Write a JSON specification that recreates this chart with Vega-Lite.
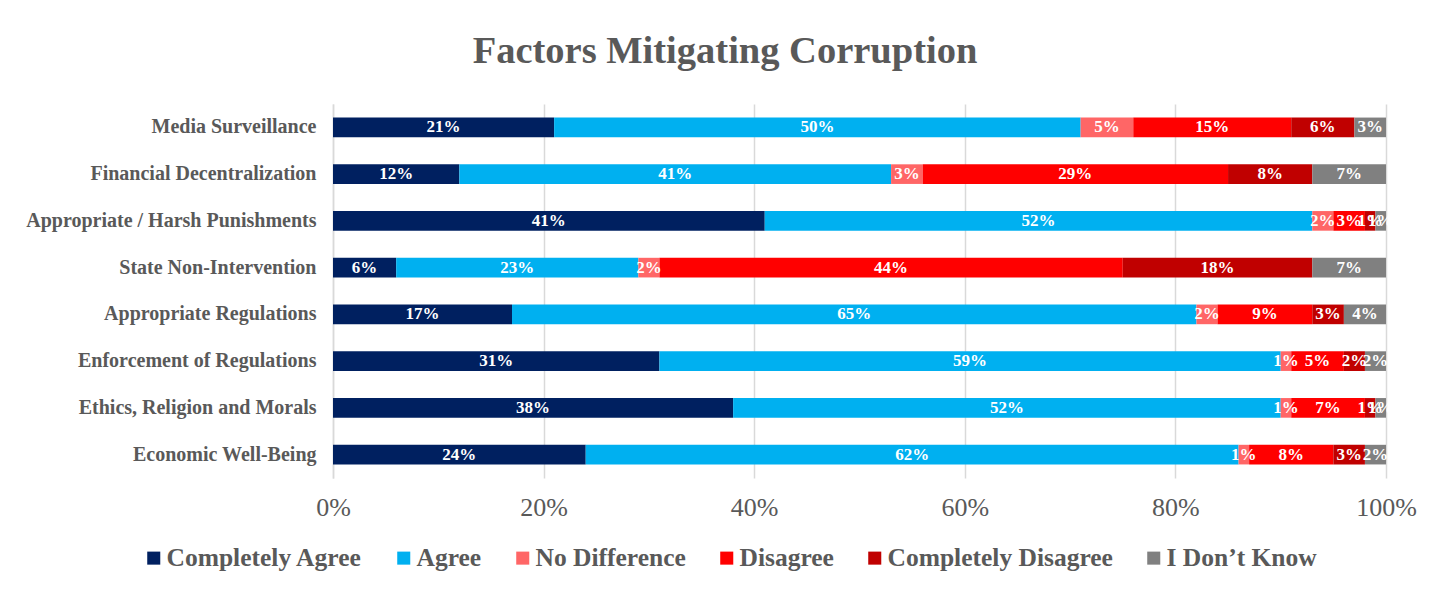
{
  "$schema": "https://vega.github.io/schema/vega-lite/v6.json",
  "autosize": {"type": "none"},
  "width": 1053,
  "height": 374,
  "padding": {"left": 333, "top": 104, "right": 63, "bottom": 117},
  "background": "white",
  "title": {
    "text": "Factors Mitigating Corruption",
    "font": "Liberation Serif",
    "fontSize": 38.5,
    "fontWeight": "bold",
    "color": "#595959",
    "anchor": "middle",
    "dx": -134.5,
    "offset": 33
  },
  "config": {
    "view": {"stroke": null},
    "font": "Liberation Serif"
  },
  "data": {
    "values": [
      {"f": "Media Surveillance", "c": "Completely Agree", "k": 1, "v": 0.21},
      {"f": "Media Surveillance", "c": "Agree", "k": 2, "v": 0.50},
      {"f": "Media Surveillance", "c": "No Difference", "k": 3, "v": 0.05},
      {"f": "Media Surveillance", "c": "Disagree", "k": 4, "v": 0.15},
      {"f": "Media Surveillance", "c": "Completely Disagree", "k": 5, "v": 0.06},
      {"f": "Media Surveillance", "c": "I Don’t Know", "k": 6, "v": 0.03},
      {"f": "Financial Decentralization", "c": "Completely Agree", "k": 1, "v": 0.12},
      {"f": "Financial Decentralization", "c": "Agree", "k": 2, "v": 0.41},
      {"f": "Financial Decentralization", "c": "No Difference", "k": 3, "v": 0.03},
      {"f": "Financial Decentralization", "c": "Disagree", "k": 4, "v": 0.29},
      {"f": "Financial Decentralization", "c": "Completely Disagree", "k": 5, "v": 0.08},
      {"f": "Financial Decentralization", "c": "I Don’t Know", "k": 6, "v": 0.07},
      {"f": "Appropriate / Harsh Punishments", "c": "Completely Agree", "k": 1, "v": 0.41},
      {"f": "Appropriate / Harsh Punishments", "c": "Agree", "k": 2, "v": 0.52},
      {"f": "Appropriate / Harsh Punishments", "c": "No Difference", "k": 3, "v": 0.02},
      {"f": "Appropriate / Harsh Punishments", "c": "Disagree", "k": 4, "v": 0.03},
      {"f": "Appropriate / Harsh Punishments", "c": "Completely Disagree", "k": 5, "v": 0.01},
      {"f": "Appropriate / Harsh Punishments", "c": "I Don’t Know", "k": 6, "v": 0.01},
      {"f": "State Non-Intervention", "c": "Completely Agree", "k": 1, "v": 0.06},
      {"f": "State Non-Intervention", "c": "Agree", "k": 2, "v": 0.23},
      {"f": "State Non-Intervention", "c": "No Difference", "k": 3, "v": 0.02},
      {"f": "State Non-Intervention", "c": "Disagree", "k": 4, "v": 0.44},
      {"f": "State Non-Intervention", "c": "Completely Disagree", "k": 5, "v": 0.18},
      {"f": "State Non-Intervention", "c": "I Don’t Know", "k": 6, "v": 0.07},
      {"f": "Appropriate Regulations", "c": "Completely Agree", "k": 1, "v": 0.17},
      {"f": "Appropriate Regulations", "c": "Agree", "k": 2, "v": 0.65},
      {"f": "Appropriate Regulations", "c": "No Difference", "k": 3, "v": 0.02},
      {"f": "Appropriate Regulations", "c": "Disagree", "k": 4, "v": 0.09},
      {"f": "Appropriate Regulations", "c": "Completely Disagree", "k": 5, "v": 0.03},
      {"f": "Appropriate Regulations", "c": "I Don’t Know", "k": 6, "v": 0.04},
      {"f": "Enforcement of Regulations", "c": "Completely Agree", "k": 1, "v": 0.31},
      {"f": "Enforcement of Regulations", "c": "Agree", "k": 2, "v": 0.59},
      {"f": "Enforcement of Regulations", "c": "No Difference", "k": 3, "v": 0.01},
      {"f": "Enforcement of Regulations", "c": "Disagree", "k": 4, "v": 0.05},
      {"f": "Enforcement of Regulations", "c": "Completely Disagree", "k": 5, "v": 0.02},
      {"f": "Enforcement of Regulations", "c": "I Don’t Know", "k": 6, "v": 0.02},
      {"f": "Ethics, Religion and Morals", "c": "Completely Agree", "k": 1, "v": 0.38},
      {"f": "Ethics, Religion and Morals", "c": "Agree", "k": 2, "v": 0.52},
      {"f": "Ethics, Religion and Morals", "c": "No Difference", "k": 3, "v": 0.01},
      {"f": "Ethics, Religion and Morals", "c": "Disagree", "k": 4, "v": 0.07},
      {"f": "Ethics, Religion and Morals", "c": "Completely Disagree", "k": 5, "v": 0.01},
      {"f": "Ethics, Religion and Morals", "c": "I Don’t Know", "k": 6, "v": 0.01},
      {"f": "Economic Well-Being", "c": "Completely Agree", "k": 1, "v": 0.24},
      {"f": "Economic Well-Being", "c": "Agree", "k": 2, "v": 0.62},
      {"f": "Economic Well-Being", "c": "No Difference", "k": 3, "v": 0.01},
      {"f": "Economic Well-Being", "c": "Disagree", "k": 4, "v": 0.08},
      {"f": "Economic Well-Being", "c": "Completely Disagree", "k": 5, "v": 0.03},
      {"f": "Economic Well-Being", "c": "I Don’t Know", "k": 6, "v": 0.02}
    ]
  },
  "encoding": {
    "y": {
      "field": "f",
      "type": "nominal",
      "sort": null,
      "title": null,
      "scale": {"paddingInner": 0.58, "paddingOuter": 0.29},
      "axis": {
        "labelFont": "Liberation Serif",
        "labelFontSize": 20,
        "labelFontWeight": "bold",
        "labelColor": "#595959",
        "labelPadding": 17,
        "ticks": false,
        "domainColor": "#D9D9D9",
        "domainWidth": 1.5,
        "labelLimit": 400
      }
    },
    "x": {
      "field": "v",
      "type": "quantitative",
      "stack": "zero",
      "title": null,
      "scale": {"domain": [0, 1], "nice": false},
      "axis": {
        "format": ".0%",
        "values": [0, 0.2, 0.4, 0.6, 0.8, 1],
        "labelFont": "Liberation Serif",
        "labelFontSize": 26,
        "labelColor": "#595959",
        "labelPadding": 16,
        "ticks": false,
        "domain": false,
        "grid": true,
        "gridColor": "#D9D9D9",
        "gridWidth": 1.5,
        "labelFlush": false
      }
    },
    "order": {"field": "k", "type": "quantitative"}
  },
  "layer": [
    {
      "mark": {"type": "bar"},
      "encoding": {
        "color": {
          "field": "c",
          "type": "nominal",
          "title": null,
          "scale": {
            "domain": ["Completely Agree", "Agree", "No Difference", "Disagree", "Completely Disagree", "I Don’t Know"],
            "range": ["#002060", "#00B0F0", "#FF6666", "#FF0000", "#C00000", "#808080"]
          },
          "legend": {
            "orient": "none",
            "direction": "horizontal",
            "columns": 6,
            "legendX": -192,
            "legendY": 441,
            "symbolType": "square",
            "symbolSize": 170,
            "symbolStrokeWidth": 0,
            "labelFont": "Liberation Serif",
            "labelFontSize": 25.5,
            "labelFontWeight": "bold",
            "labelColor": "#595959",
            "labelOffset": 0,
            "columnPadding": 28,
            "labelLimit": 500
          }
        }
      }
    },
    {
      "mark": {
        "type": "text",
        "color": "white",
        "font": "Liberation Serif",
        "fontSize": 17,
        "fontWeight": "bold",
        "baseline": "middle",
        "align": "center"
      },
      "encoding": {
        "x": {"field": "v", "type": "quantitative", "stack": "zero", "bandPosition": 0.5},
        "text": {"field": "v", "type": "quantitative", "format": ".0%"}
      }
    }
  ]
}
